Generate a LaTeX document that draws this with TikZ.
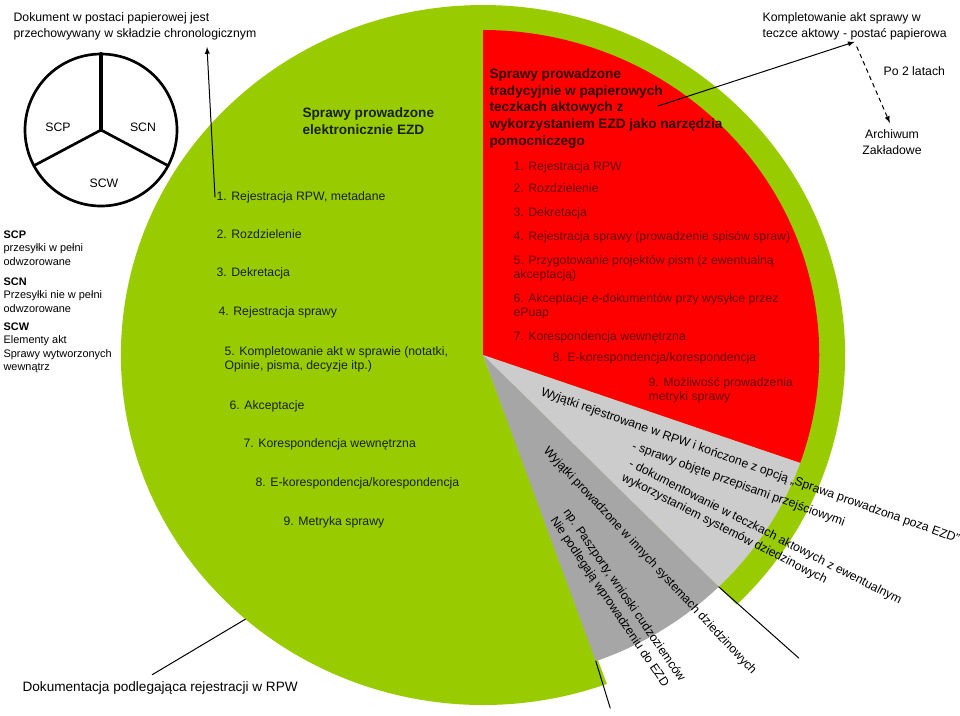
\documentclass[tikz,border=0pt]{standalone}
\usepackage{fontspec}
\setmainfont{Liberation Sans}

\definecolor{ezdgreen}{RGB}{153,204,0}
\definecolor{paperred}{RGB}{255,0,0}
\definecolor{exceptlight}{RGB}{204,204,204}
\definecolor{exceptdark}{RGB}{166,166,166}
\definecolor{greenink}{RGB}{24,34,0}
\definecolor{redtitle}{RGB}{50,0,0}
\definecolor{redink}{RGB}{105,0,0}

\begin{document}
\begin{tikzpicture}[x=0.75pt,y=-0.75pt,line cap=round,line join=round,
        note/.style={font=\fontsize{9.2}{12}\selectfont,inner sep=1pt,align=left,anchor=west},
        item/.style={font=\fontsize{9.2}{10.5}\selectfont,inner sep=1pt,align=left,anchor=west},
        legend/.style={font=\fontsize{8.2}{10.1}\selectfont,inner sep=1pt,align=left,anchor=west},
        heading/.style={font=\bfseries\fontsize{10.2}{12.6}\selectfont,inner sep=1pt,align=left,anchor=west},
        tilted/.style={font=\fontsize{9.2}{11}\selectfont,inner sep=0pt,anchor=base west},
        pointer/.style={-latex,line width=0.75pt}]
        \useasboundingbox (0,0) rectangle (960,715);

        % Kolo: EZD, teczki papierowe i wyjatki
        \begin{scope}[shift={(483,355)},x=0.776pt,y=0.75pt]
            \fill[ezdgreen] (0,0) -- (-45.5:350) arc[start angle=-45.5,end angle=290,radius=350] -- cycle;
            \fill[paperred] (0,0) -- (90:325) arc[start angle=90,end angle=-19.4,radius=325] -- cycle;
            \fill[exceptlight] (0,0) -- (-19.4:325) arc[start angle=-19.4,end angle=-45.5,radius=325] -- cycle;
            \fill[exceptdark] (0,0) -- (-45.5:325) arc[start angle=-45.5,end angle=-70.4,radius=325] -- cycle;
            \coordinate (cutA) at (-45.5:325);
            \coordinate (cutAend) at (-44.8:430);
            \coordinate (cutB) at (-70.4:325);
            \coordinate (cutBend) at (-70.8:374);
            \coordinate (rimRPW) at (229:350);
        \end{scope}

        % Sklad chronologiczny
        \begin{scope}[shift={(101,130)},x=0.75pt,y=0.75pt]
            \draw[line width=2pt] (0,0) circle (76);
            \draw[line width=3pt] (0,0) -- (90:76);
            \draw[line width=2pt] (0,0) -- (208:76);
            \draw[line width=2pt] (0,0) -- (332:76);
        \end{scope}
        \node[note,anchor=center] (scp) at (58,127) {SCP};
        \node[note,anchor=center] (scn) at (143,127) {SCN};
        \node[note,anchor=center] (scw) at (104,183) {SCW};

        % Opisy z lewej
        \node[note] (dokument) at (12,26) {Dokument w postaci papierowej jest\\przechowywany w składzie chronologicznym};
        \node[legend] (legSCP) at (2,248) {\textbf{SCP}\\przesyłki w pełni\\odwzorowane};
        \node[legend] (legSCN) at (2,295) {\textbf{SCN}\\Przesyłki nie w pełni\\odwzorowane};
        \node[legend] (legSCW) at (2,348) {\textbf{SCW}\\Elementy akt\\Sprawy wytworzonych\\wewnątrz};
        \node[note,font=\fontsize{10.2}{12}\selectfont] (dokRPW) at (21,688) {Dokumentacja podlegająca rejestracji w RPW};

        % Sprawy w EZD
        \node[heading,text=greenink] (ezdTitle) at (301,121.5) {Sprawy prowadzone\\elektronicznie EZD};
        \node[item,text=greenink] (ezd1) at (215,197) {1. Rejestracja RPW, metadane};
        \node[item,text=greenink] (ezd2) at (215,234) {2. Rozdzielenie};
        \node[item,text=greenink] (ezd3) at (215,273) {3. Dekretacja};
        \node[item,text=greenink] (ezd4) at (217,312) {4. Rejestracja sprawy};
        \node[item,text=greenink] (ezd5) at (223,359) {5. Kompletowanie akt w sprawie (notatki,\\Opinie, pisma, decyzje itp.)};
        \node[item,text=greenink] (ezd6) at (228,406) {6. Akceptacje};
        \node[item,text=greenink] (ezd7) at (242,444) {7. Korespondencja wewnętrzna};
        \node[item,text=greenink] (ezd8) at (254,483) {8. E-korespondencja/korespondencja};
        \node[item,text=greenink] (ezd9) at (282,522) {9. Metryka sprawy};

        % Sprawy w teczkach papierowych
        \node[heading,text=redtitle] (paperTitle) at (488,108.5) {Sprawy prowadzone\\tradycyjnie w papierowych\\teczkach aktowych z\\wykorzystaniem EZD jako narzędzia\\pomocniczego};
        \node[item,text=redink] (paper1) at (512,167) {1. Rejestracja RPW};
        \node[item,text=redink] (paper2) at (512,188) {2. Rozdzielenie};
        \node[item,text=redink] (paper3) at (512,213) {3. Dekretacja};
        \node[item,text=redink] (paper4) at (512,237) {4. Rejestracja sprawy (prowadzenie spisów spraw)};
        \node[item,text=redink] (paper5) at (512,268.5) {5. Przygotowanie projektów pism (z ewentualną\\akceptacją)};
        \node[item,text=redink] (paper6) at (512,306) {6. Akceptacje e-dokumentów przy wysyłce przez\\ePuap};
        \node[item,text=redink] (paper7) at (512,337) {7. Korespondencja wewnętrzna};
        \node[item,text=redink] (paper8) at (551,358) {8. E-korespondencja/korespondencja};
        \node[item,text=redink] (paper9) at (647,390) {9. Możliwość prowadzenia\\metryki sprawy};

        % Wyjatki
        \node[tilted,rotate=-19.5] (exRPW) at (540,395) {Wyjątki rejestrowane w RPW i kończone z opcją „Sprawa prowadzona poza EZD”};
        \node[tilted,rotate=-20] (exTrans) at (631,449) {- sprawy objęte przepisami przejściowymi};
        \node[tilted,rotate=-27] (exFolder) at (628,466) {- dokumentowanie w teczkach aktowych z ewentualnym};
        \node[tilted,rotate=-27] (exFolderB) at (621,480) {wykorzystaniem systemów dziedzinowych};
        \node[tilted,rotate=-47] (exOther) at (543,451) {Wyjątki prowadzone w innych systemach dziedzinowych};
        \node[tilted,rotate=-55.6] (exPass) at (563,512) {np. Paszporty, wnioski cudzoziemców};
        \node[tilted,rotate=-56] (exNone) at (550,520) {Nie podlegają wprowadzeniu do EZD};

        % Opisy z prawej
        \node[note] (kompl) at (761,26.5) {Kompletowanie akt sprawy w\\teczce aktowy - postać papierowa};
        \node[note] (poLatach) at (882,71) {Po 2 latach};
        \node[note,align=center,anchor=center] (archiwum) at (892,142) {Archiwum\\Zakładowe};

        % Strzalki i kreski
        \coordinate (dokTip) at (207,47);
        \coordinate (paperTail) at (658,106);
        \draw[pointer] (ezd1.west) -- (dokTip);
        \draw[pointer] (paperTail) -- (kompl.south);
        \draw[pointer,dashed,shorten <=4pt,shorten >=4pt] (kompl.south) -- (archiwum.north);
        \draw[line width=0.75pt] ([xshift=-6pt,yshift=4pt]dokRPW.north) -- (rimRPW);
        \draw[line width=0.75pt] (cutA) -- (cutAend);
        \draw[line width=0.75pt] (cutB) -- (cutBend);

    \end{tikzpicture}
\end{document}
